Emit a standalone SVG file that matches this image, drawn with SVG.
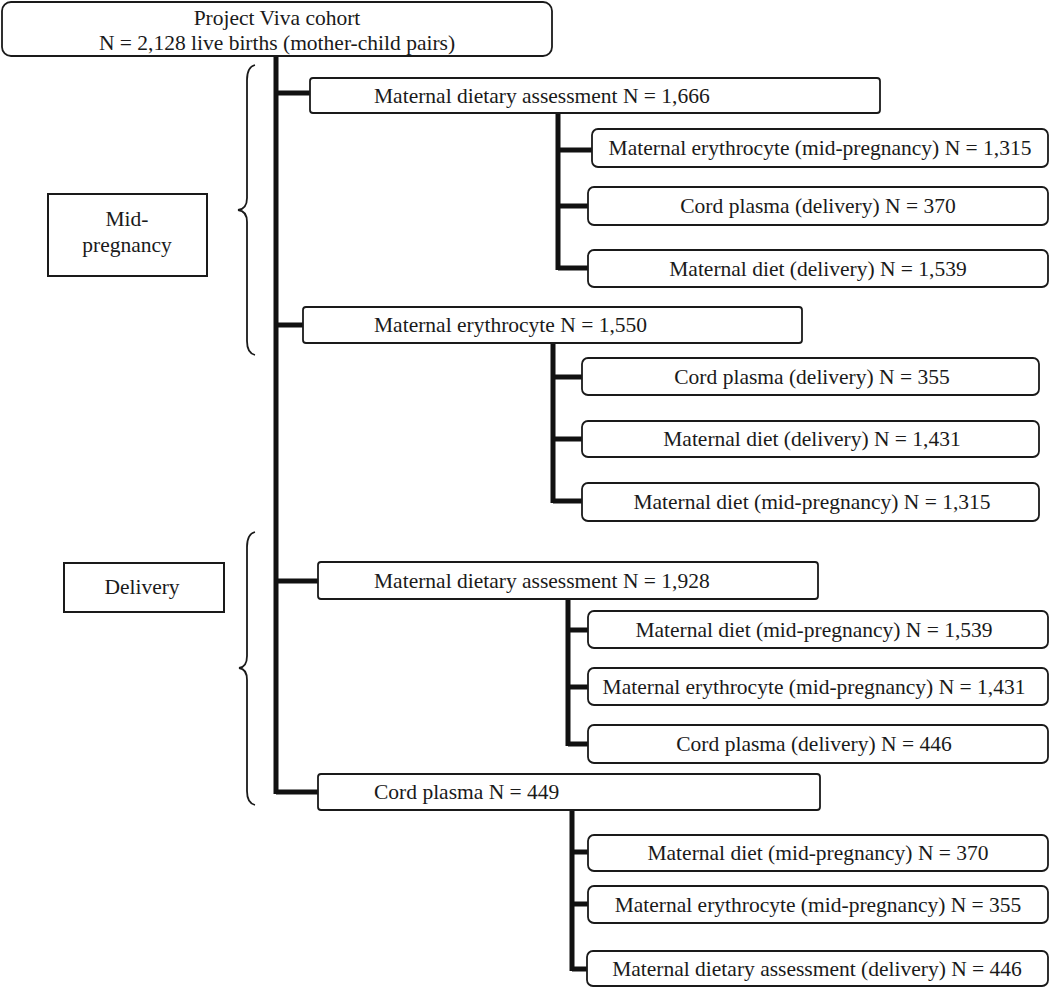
<svg xmlns="http://www.w3.org/2000/svg" width="1050" height="988" viewBox="0 0 1050 988">
<style>
text{font-family:"Liberation Serif","Times New Roman",serif;font-size:21.5px;fill:#1a1a1a}
.c{text-anchor:middle}
.box{fill:#fff;stroke:#1a1a1a;stroke-width:1.8}
.lab{fill:#fff;stroke:#1a1a1a;stroke-width:2}
.con{stroke:#111;stroke-width:5;fill:none}
.brace{stroke:#1a1a1a;stroke-width:1.8;fill:none}
</style>
<rect width="1050" height="988" fill="#fff"/>
<g id="connectors">
<path class="con" d="M276,56 V794 M276,93 H310 M276,325 H303 M276,581 H318 M276,792 H318"/>
<path class="con" d="M558,113 V270 M558,150 H592 M558,206 H588 M558,268 H588"/>
<path class="con" d="M553,343 V503 M553,377 H582 M553,439 H582 M553,501 H582"/>
<path class="con" d="M568,599 V746 M568,630 H588 M568,687 H588 M568,744 H588"/>
<path class="con" d="M572,810 V971 M572,852 H588 M572,904 H588 M572,969 H588"/>
</g>
<g id="brace-mid"><path class="brace" d="M255,65 Q247,67 247,80 L247,198 Q247,209 238,210 Q247,211 247,222 L247,341 Q247,353 255,355"/></g>
<g id="brace-del"><path class="brace" d="M255,532 Q247,534 247,547 L247,656 Q247,667 239,668 Q247,669 247,680 L247,791 Q247,803 255,805"/></g>
<g id="root"><rect class="box" x="2" y="2" width="550" height="54" rx="9"/><text class="c" x="277" y="25">Project Viva cohort</text><text class="c" x="277" y="50">N = 2,128 live births (mother-child pairs)</text></g>
<g id="mid-label"><rect class="lab" x="48" y="194" width="159" height="82"/><text class="c" x="127" y="226">Mid-</text><text class="c" x="127" y="252">pregnancy</text></g>
<g id="del-label"><rect class="lab" x="64" y="563" width="160" height="49"/><text class="c" x="142" y="594">Delivery</text></g>
<g id="n1"><rect class="box" x="310" y="78" width="570" height="35" rx="3"/><text x="374" y="103">Maternal dietary assessment N = 1,666</text></g>
<g id="n1a"><rect class="box" x="592" y="129" width="456" height="38" rx="6"/><text class="c" x="820" y="155">Maternal erythrocyte (mid-pregnancy) N = 1,315</text></g>
<g id="n1b"><rect class="box" x="588" y="187" width="460" height="38" rx="6"/><text class="c" x="818" y="213">Cord plasma (delivery) N = 370</text></g>
<g id="n1c"><rect class="box" x="588" y="250" width="460" height="37" rx="6"/><text class="c" x="818" y="276">Maternal diet (delivery) N = 1,539</text></g>
<g id="n2"><rect class="box" x="303" y="307" width="499" height="36" rx="3"/><text x="374" y="332">Maternal erythrocyte N = 1,550</text></g>
<g id="n2a"><rect class="box" x="582" y="358" width="457" height="37" rx="6"/><text class="c" x="812" y="384">Cord plasma (delivery) N = 355</text></g>
<g id="n2b"><rect class="box" x="582" y="421" width="457" height="36" rx="6"/><text class="c" x="812" y="446">Maternal diet (delivery) N = 1,431</text></g>
<g id="n2c"><rect class="box" x="582" y="483" width="457" height="38" rx="6"/><text class="c" x="812" y="509">Maternal diet (mid-pregnancy) N = 1,315</text></g>
<g id="n3"><rect class="box" x="318" y="562" width="500" height="37" rx="3"/><text x="374" y="588">Maternal dietary assessment N = 1,928</text></g>
<g id="n3a"><rect class="box" x="588" y="611" width="460" height="37" rx="6"/><text class="c" x="814" y="637">Maternal diet (mid-pregnancy) N = 1,539</text></g>
<g id="n3b"><rect class="box" x="588" y="668" width="460" height="37" rx="6"/><text class="c" x="814" y="694">Maternal erythrocyte (mid-pregnancy) N = 1,431</text></g>
<g id="n3c"><rect class="box" x="588" y="725" width="460" height="38" rx="6"/><text class="c" x="814" y="751">Cord plasma (delivery) N = 446</text></g>
<g id="n4"><rect class="box" x="318" y="774" width="502" height="36" rx="3"/><text x="374" y="799">Cord plasma N = 449</text></g>
<g id="n4a"><rect class="box" x="588" y="835" width="460" height="36" rx="6"/><text class="c" x="818" y="860">Maternal diet (mid-pregnancy) N = 370</text></g>
<g id="n4b"><rect class="box" x="588" y="886" width="460" height="37" rx="6"/><text class="c" x="818" y="912">Maternal erythrocyte (mid-pregnancy) N = 355</text></g>
<g id="n4c"><rect class="box" x="587" y="951" width="461" height="35" rx="6"/><text class="c" x="817" y="976">Maternal dietary assessment (delivery) N = 446</text></g>
</svg>
